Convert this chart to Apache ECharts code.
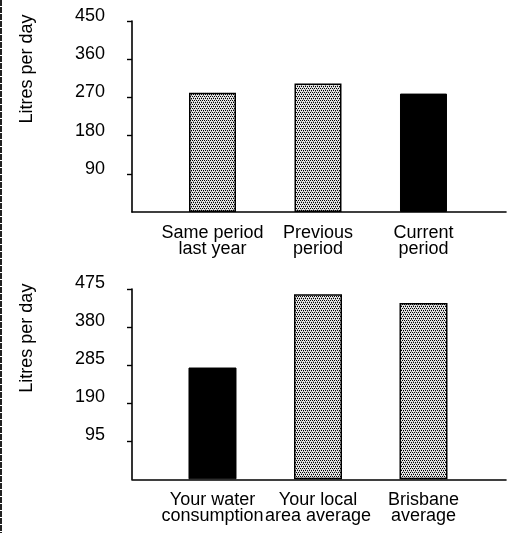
<!DOCTYPE html>
<html>
<head>
<meta charset="utf-8">
<script src="https://cdn.jsdelivr.net/npm/echarts@6/dist/echarts.min.js"></script>
<style>
html,body{margin:0;padding:0;background:#fff;}
#main{width:513px;height:533px;}
</style>
</head>
<body>
<div id="main"></div>
<script>
// ---- data ----
var topCategories = ['Same period\nlast year', 'Previous\nperiod', 'Current\nperiod'];
var topValues = [281, 303, 279];
var topTicks = [90, 180, 270, 360, 450];

var bottomCategories = ['Your water\nconsumption', 'Your local\narea average', 'Brisbane\naverage'];
var bottomValues = [279, 462, 440];
var bottomTicks = [95, 190, 285, 380, 475];

var yName = 'Litres per day';
// which bars are highlighted (solid black) in each chart
var topHighlight = [false, false, true];
var bottomHighlight = [true, false, false];

// ---- styles ----
function makePattern() {
  var c = document.createElement('canvas');
  c.width = 4; c.height = 4;
  var g = c.getContext('2d');
  g.fillStyle = '#e4e4e4';
  g.fillRect(0, 0, 4, 4);
  g.fillStyle = '#000';
  [[0,0],[2,0],[1,2],[3,2]].forEach(function(p){ g.fillRect(p[0], p[1], 1, 1); });
  g.fillStyle = '#888';
  [[1,1],[3,3]].forEach(function(p){ g.fillRect(p[0], p[1], 1, 1); });
  return c;
}
var pattern = { image: makePattern(), repeat: 'repeat' };
var FONT = 'Liberation Sans, Arial, sans-serif';

function barData(values, hl) {
  return values.map(function (v, i) {
    return {
      value: [i, v],
      itemStyle: hl[i]
        ? { color: '#000', borderColor: '#000', borderWidth: 1 }
        : { color: pattern, borderColor: '#000', borderWidth: 1.5 }
    };
  });
}

function xAxisFor(gridIndex, cats) {
  return {
    type: 'value', gridIndex: gridIndex,
    min: -0.763, max: 2.782,
    axisLine: { show: true, onZero: false, lineStyle: { color: '#000', width: 1.6 } },
    axisTick: { show: false },
    splitLine: { show: false },
    axisLabel: {
      customValues: [0, 1, 2],
      hideOverlap: false,
      formatter: function (v) { return cats[Math.round(v)]; },
      color: '#000', fontFamily: FONT, fontSize: 18, lineHeight: 16, margin: 13
    }
  };
}

function yAxisFor(gridIndex, ticks, namePad, labelLH) {
  var max = ticks[ticks.length - 1];
  return {
    type: 'value', gridIndex: gridIndex,
    min: 0, max: max, interval: ticks[0],
    name: yName, nameLocation: 'middle', nameRotate: 90, nameGap: 96,
    nameTextStyle: { color: '#000', fontFamily: FONT, fontSize: 18, padding: [0, 0, 0, namePad] },
    axisLine: { show: true, onZero: false, lineStyle: { color: '#000', width: 1.6 } },
    axisTick: { show: true, length: 5, customValues: ticks, lineStyle: { color: '#000', width: 1.4 } },
    splitLine: { show: false },
    axisLabel: {
      customValues: ticks,
      color: '#000', fontFamily: FONT, fontSize: 18, margin: 27,
      verticalAlign: 'bottom', lineHeight: labelLH
    }
  };
}

var chart = echarts.init(document.getElementById('main'), null, { renderer: 'canvas' });
chart.setOption({
  animation: false,
  backgroundColor: '#fff',
  grid: [
    { left: 132, right: 7, top: 21, height: 191 },
    { left: 132, right: 7, top: 289, height: 190.3 }
  ],
  xAxis: [xAxisFor(0, topCategories), xAxisFor(1, bottomCategories)],
  yAxis: [yAxisFor(0, topTicks, 95, 10), yAxisFor(1, bottomTicks, 92, 12)],
  graphic: [{
    type: 'line', silent: true,
    shape: { x1: 1, y1: 0, x2: 1, y2: 533 },
    style: { stroke: '#222', lineWidth: 2, lineDash: [6, 1] }
  }],
  series: [
    { type: 'bar', xAxisIndex: 0, yAxisIndex: 0, barWidth: 47, data: barData(topValues, topHighlight) },
    { type: 'bar', xAxisIndex: 1, yAxisIndex: 1, barWidth: 48, data: barData(bottomValues, bottomHighlight) }
  ]
});
</script>
</body>
</html>
